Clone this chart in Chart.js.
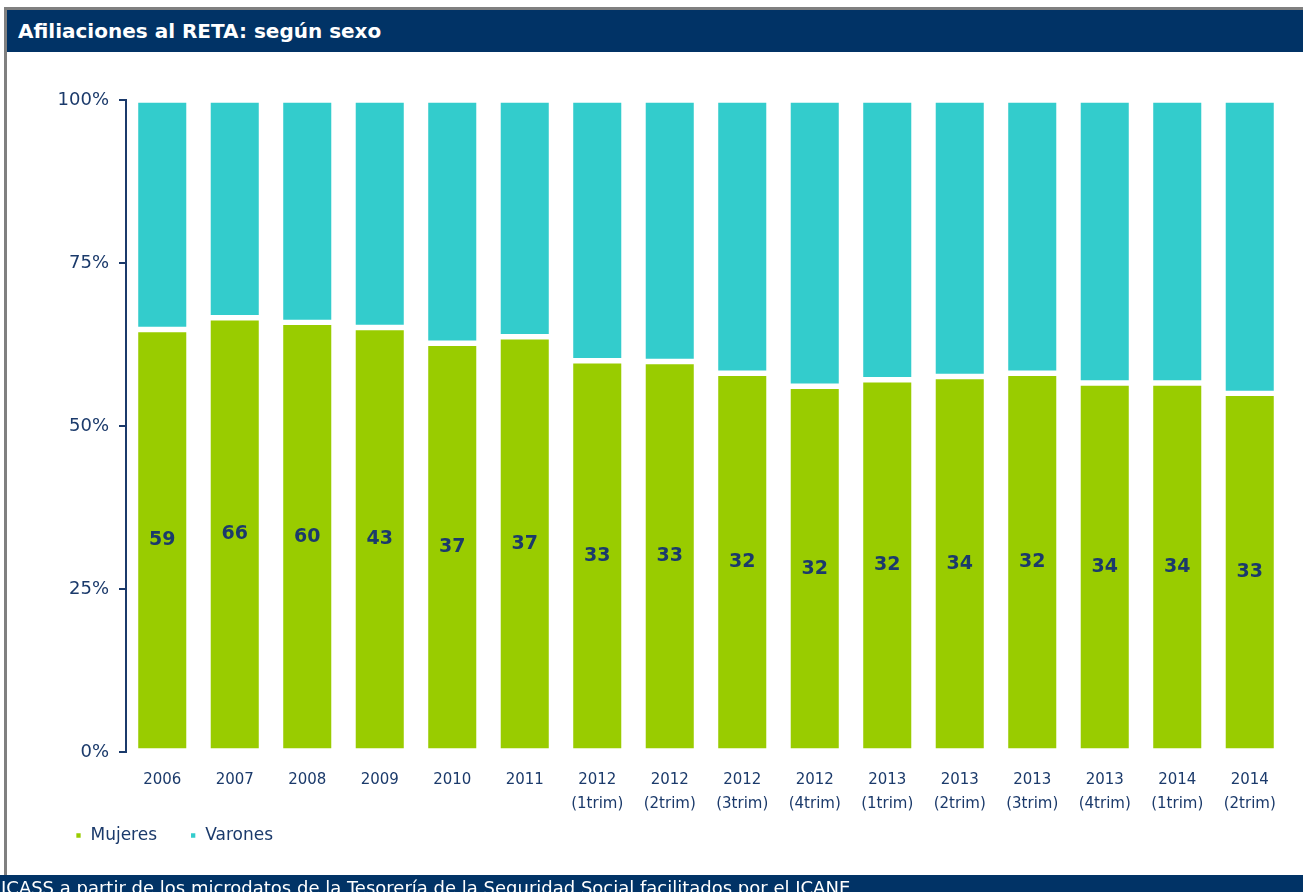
<!DOCTYPE html>
<html><head><meta charset="utf-8">
<script src="https://cdn.jsdelivr.net/npm/chart.js@4.4.1/dist/chart.umd.min.js"></script>
<style>
html,body{margin:0;padding:0;background:#fff;width:1303px;height:892px;overflow:hidden;font-family:"DejaVu Sans",sans-serif;}
#frame{position:absolute;left:4px;top:7px;width:1299px;height:885px;border-left:3px solid #808080;border-top:3px solid #808080;box-sizing:border-box;z-index:2;}
#title{position:absolute;left:7px;top:10px;width:1296px;height:42px;background:#013366;color:#fff;font-weight:bold;font-size:20px;line-height:42px;padding-left:11px;box-sizing:border-box;z-index:3;}
#footer{position:absolute;left:0;top:875px;width:1303px;height:17px;background:#013366;color:#fff;font-size:18px;line-height:25px;overflow:hidden;white-space:nowrap;padding-left:1px;box-sizing:border-box;z-index:3;}
#wrap{position:absolute;left:0;top:0;width:1303px;height:892px;z-index:1;}
</style></head>
<body>
<div id="frame"></div>
<div id="title">Afiliaciones al RETA: según sexo</div>
<div id="wrap"><canvas id="c" width="1303" height="892"></canvas></div>
<div id="footer">ICASS a partir de los microdatos de la Tesorería de la Seguridad Social facilitados por el ICANE</div>
<script>
const years   = ['2006','2007','2008','2009','2010','2011','2012','2012','2012','2012','2013','2013','2013','2013','2014','2014'];
const periods = ['','','','','','','(1trim)','(2trim)','(3trim)','(4trim)','(1trim)','(2trim)','(3trim)','(4trim)','(1trim)','(2trim)'];
const mujeres = [64.8, 66.6, 65.9, 65.1, 62.7, 63.7, 60.0, 59.9, 58.1, 56.1, 57.1, 57.6, 58.1, 56.6, 56.6, 55.0];
const varones = [35.2, 33.4, 34.1, 34.9, 37.3, 36.3, 40.0, 40.1, 41.9, 43.9, 42.9, 42.4, 41.9, 43.4, 43.4, 45.0];
const etiquetasMujeres = ['59','66','60','43','37','37','33','33','32','32','32','34','32','34','34','33'];
const yTicks = [0, 25, 50, 75, 100];

const NAVY = '#1B3A6B';
const labels = years.map((y, i) => periods[i] ? [y, periods[i]] : [y]);

const barLabels = {
  id: 'barLabels',
  beforeDraw(chart) {
    // let y tick labels extend left of the axis box without being clipped
    chart.scales.y._computeLabelArea = () => undefined;
  },
  afterDatasetsDraw(chart) {
    const ctx = chart.ctx;
    const meta = chart.getDatasetMeta(0);
    ctx.save();
    ctx.font = 'bold 19px "DejaVu Sans"';
    ctx.fillStyle = NAVY;
    ctx.textAlign = 'center';
    ctx.textBaseline = 'middle';
    meta.data.forEach((el, i) => {
      ctx.fillText(etiquetasMujeres[i], el.x, (el.y + el.base) / 2);
    });
    ctx.restore();
  }
};

new Chart(document.getElementById('c'), {
  type: 'bar',
  data: {
    labels: labels,
    datasets: [
      { label: 'Mujeres', data: mujeres, backgroundColor: '#99CC00', borderColor: '#ffffff', borderWidth: 2.7, borderSkipped: false },
      { label: 'Varones', data: varones, backgroundColor: '#33CCCC', borderColor: '#ffffff', borderWidth: 2.7, borderSkipped: false }
    ]
  },
  options: {
    responsive: false,
    animation: false,
    layout: { padding: { left: 64, right: 17, top: 100, bottom: 38 } },
    datasets: { bar: { categoryPercentage: 1, barPercentage: 0.737 } },
    scales: {
      x: {
        stacked: true,
        grid: { display: false },
        border: { display: false },
        ticks: { color: NAVY, font: { family: 'DejaVu Sans', size: 15, lineHeight: 1.6 }, padding: 8, maxRotation: 0, autoSkip: false },
        afterFit(s) { s.height = 64; }
      },
      y: {
        stacked: true,
        min: 0, max: 100,
        afterBuildTicks(s) { s.ticks = yTicks.map(v => ({ value: v })); },
        grid: { display: true, drawOnChartArea: false, drawTicks: true, tickLength: 7, color: NAVY, lineWidth: 2 },
        border: { display: true, color: NAVY, width: 2 },
        ticks: { color: NAVY, font: { family: 'DejaVu Sans', size: 18 }, padding: 10, callback: v => v + '%' },
        afterFit(s) { s.width = 62; }
      }
    },
    plugins: {
      legend: {
        position: 'bottom', align: 'start',
        labels: {
          boxWidth: 7, boxHeight: 7, padding: 11, color: NAVY, font: { family: 'DejaVu Sans', size: 17 },
          generateLabels(chart) {
            const items = Chart.defaults.plugins.legend.labels.generateLabels(chart);
            items.forEach(it => { it.text = it.text + '\u00A0\u00A0\u00A0\u00A0'; });
            return items;
          }
        }
      },
      tooltip: { enabled: false }
    }
  },
  plugins: [barLabels]
});
</script>
</body></html>
